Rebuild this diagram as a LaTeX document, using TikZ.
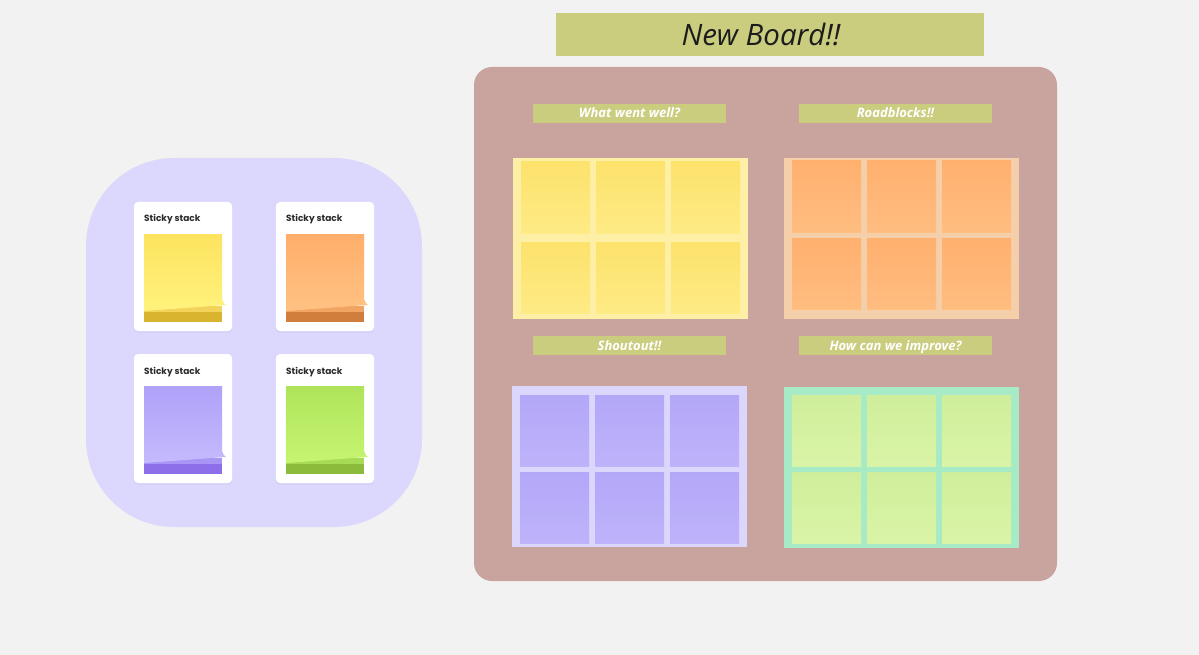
\documentclass[tikz,border=0pt]{standalone}
\usepackage{fontspec}
\setmainfont{Open Sans}
\newfontfamily\popfont{Poppins}
\usetikzlibrary{shadows}
\definecolor{bg}{HTML}{F2F2F2}
\definecolor{panel}{HTML}{DCD8FD}
\definecolor{board}{HTML}{C9A39D}
\definecolor{olive}{HTML}{CACD7E}
\definecolor{titletext}{HTML}{1C1C1C}
\definecolor{cardtext}{HTML}{2A2A2A}
% sticky stack colours
\definecolor{yTop}{HTML}{FDE35F}\definecolor{yBot}{HTML}{FFF27C}\definecolor{yStrip}{HTML}{D9B42E}\definecolor{yBand}{HTML}{F3D35A}
\definecolor{oTop}{HTML}{FFAE6A}\definecolor{oBot}{HTML}{FFC283}\definecolor{oStrip}{HTML}{D17E3D}\definecolor{oBand}{HTML}{F2A463}
\definecolor{pTop}{HTML}{AFA1F8}\definecolor{pBot}{HTML}{C5BAFD}\definecolor{pStrip}{HTML}{8D6FEA}\definecolor{pBand}{HTML}{A895F5}
\definecolor{gTop}{HTML}{AEE45A}\definecolor{gBot}{HTML}{C6F570}\definecolor{gStrip}{HTML}{8CBA3A}\definecolor{gBand}{HTML}{A7DA55}
% grid colours
\definecolor{yFrame}{HTML}{FDF0A6}\definecolor{yNoteA}{HTML}{FDE26C}\definecolor{yNoteB}{HTML}{FEEB85}
\definecolor{oFrame}{HTML}{F4CFA9}\definecolor{oNoteA}{HTML}{FFB06F}\definecolor{oNoteB}{HTML}{FFBD80}
\definecolor{pFrame}{HTML}{DBD6FB}\definecolor{pNoteA}{HTML}{B3A7F8}\definecolor{pNoteB}{HTML}{BEB3FA}
\definecolor{gFrame}{HTML}{A6EBC6}\definecolor{gNoteA}{HTML}{CFEE9B}\definecolor{gNoteB}{HTML}{DAF4A7}

\tikzset{
  box/.style={anchor=north west, inner sep=0pt, outer sep=0pt, draw=none},
  cardbox/.style={box, fill=white, rounded corners=4pt, minimum width=98pt, minimum height=129pt,
     drop shadow={opacity=0.07, shadow xshift=0pt, shadow yshift=-2pt}},
  cardlabel/.style={anchor=base west, inner sep=0pt, text=cardtext, font=\popfont\bfseries\fontsize{9}{10}\selectfont},
  labelbox/.style={box, fill=olive, minimum width=193pt, minimum height=19pt},
  labeltext/.style={anchor=base, inner sep=0pt, text=white, font=\bfseries\itshape\fontsize{13}{14}\selectfont},
  framebox/.style={box, minimum width=235pt, minimum height=161pt},
  notebox/.style={box, minimum width=69pt, minimum height=71pt,
     drop shadow={opacity=0.14, shadow xshift=0pt, shadow yshift=-1.4pt}},
}

% #1 name, #2 x, #3 y, #4 top, #5 bottom, #6 strip, #7 band
\newcommand\stickycard[7]{%
  \begin{scope}[shift={(#2,#3)}]
    \node[cardbox] (#1) at (0,0) {};
    \node[cardlabel] (#1-t) at (10,20) {Sticky stack};
    \fill[#6] (10,104) rectangle (88,120);
    \fill[#7] (10,104) rectangle (88,110);
    \shade[top color=#4, bottom color=#5]
      (10,32) -- (88,32) -- (88,97)
      .. controls (89,100) and (90,102) .. (92,103)
      .. controls (75,104) and (40,107) .. (10,109) -- cycle;
  \end{scope}}

% #1 name, #2 x, #3 y, #4 row1 offset, #5 row2 offset, #6 frame, #7 note top, #8 note bottom
\newcommand\stickygrid[8]{%
  \begin{scope}[shift={(#2,#3)}]
    \node[framebox, fill=#6] (#1) at (0,0) {};
    \node[notebox, top color=#7, bottom color=#8] (#1-11) at (8,#4) {};
    \node[notebox, top color=#7, bottom color=#8] (#1-12) at (83,#4) {};
    \node[notebox, top color=#7, bottom color=#8] (#1-13) at (158,#4) {};
    \node[notebox, top color=#7, bottom color=#8] (#1-21) at (8,#5) {};
    \node[notebox, top color=#7, bottom color=#8] (#1-22) at (83,#5) {};
    \node[notebox, top color=#7, bottom color=#8] (#1-23) at (158,#5) {};
  \end{scope}}

\begin{document}
\begin{tikzpicture}[x=1pt, y=-1pt]
  \fill[bg] (0,0) rectangle (1199,655);
  \useasboundingbox (0,0) rectangle (1199,655);

  % left panel with sticky stacks
  \node[box, fill=panel, rounded corners=88pt, minimum width=336pt, minimum height=369pt] (panel) at (86,158) {};
  \stickycard{c1}{134}{202}{yTop}{yBot}{yStrip}{yBand}
  \stickycard{c2}{276}{202}{oTop}{oBot}{oStrip}{oBand}
  \stickycard{c3}{134}{354}{pTop}{pBot}{pStrip}{pBand}
  \stickycard{c4}{276}{354}{gTop}{gBot}{gStrip}{gBand}

  % title
  \node[box, fill=olive, minimum width=428pt, minimum height=43pt] (titlebox) at (556,13) {};
  \node[anchor=base, inner sep=0pt, text=titletext, font=\itshape\fontsize{29.5}{31}\selectfont] (title) at (761,46) {New Board!!};

  % board
  \node[box, fill=board, rounded corners=18pt, minimum width=583pt, minimum height=514pt] (board) at (474,67) {};

  % section labels
  \node[labelbox] (l1) at (533,104) {};
  \node[labeltext] (l1t) at (629.5,118) {What went well?};
  \node[labelbox] (l2) at (799,104) {};
  \node[labeltext] (l2t) at (895.5,118) {Roadblocks!!};
  \node[labelbox] (l3) at (533,336) {};
  \node[labeltext] (l3t) at (629.5,350) {Shoutout!!};
  \node[labelbox] (l4) at (799,336) {};
  \node[labeltext] (l4t) at (895.5,350) {How can we improve?};

  % grids
  \stickygrid{gy}{513}{158}{4}{84}{yFrame}{yNoteA}{yNoteB}
  \stickygrid{go}{784}{158}{3}{80}{oFrame}{oNoteA}{oNoteB}
  \stickygrid{gp}{512}{386}{9}{86}{pFrame}{pNoteA}{pNoteB}
  \stickygrid{gg}{784}{387}{8}{85}{gFrame}{gNoteA}{gNoteB}
\end{tikzpicture}
\end{document}
